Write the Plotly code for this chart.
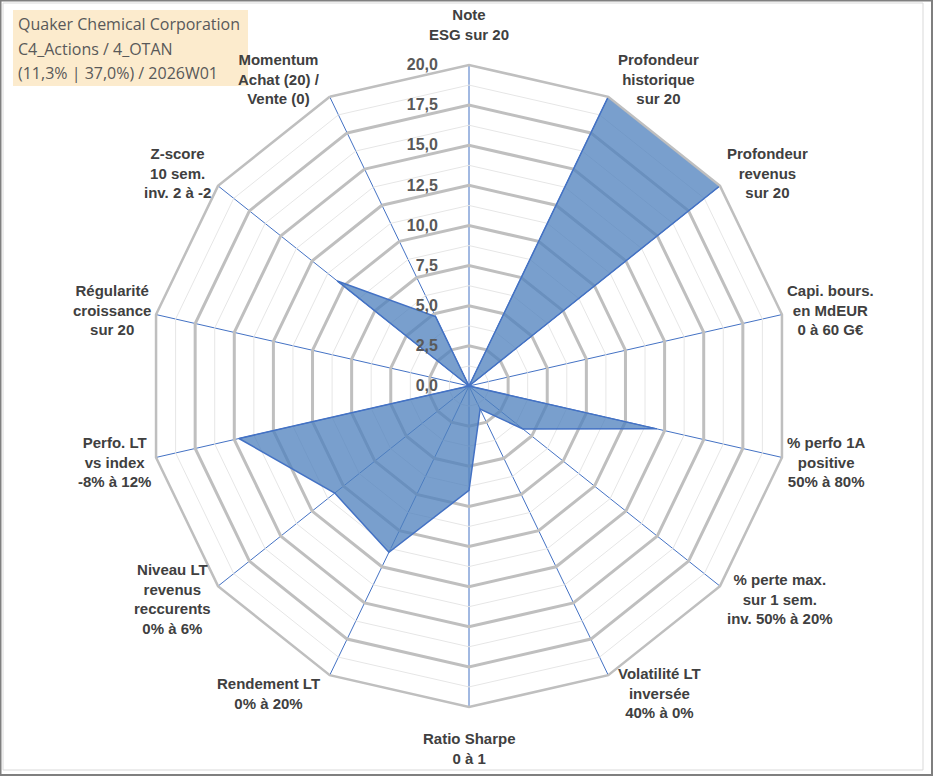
import numpy as np
import plotly.graph_objects as go

# axes of the radar, clockwise from the top
criteres = [
    "Note<br>ESG sur 20",
    "Profondeur<br>historique<br>sur 20",
    "Profondeur<br>revenus<br>sur 20",
    "Capi. bours.<br>en MdEUR<br>0 à 60 G€",
    "% perfo 1A<br>positive<br>50% à 80%",
    "% perte max.<br>sur 1 sem.<br>inv. 50% à 20%",
    "Volatilité LT<br>inversée<br>40% à 0%",
    "Ratio Sharpe<br>0 à 1",
    "Rendement LT<br>0% à 20%",
    "Niveau LT<br>revenus<br>reccurents<br>0% à 6%",
    "Perfo. LT<br>vs index<br>-8% à 12%",
    "Régularité<br>croissance<br>sur 20",
    "Z-score<br>10 sem.<br>inv. 2 à -2",
    "Momentum<br>Achat (20) /<br>Vente (0)",
]
notes = [0, 20, 20, 0, 12.0, 4.3, 1.6, 6.5, 11.5, 10.7, 14.7, 0, 10.5, 4.8]

titre = ["Quaker Chemical Corporation", "C4_Actions / 4_OTAN", "(11,3% | 37,0%) / 2026W01"]

W, H = 933, 776
cx, cy, R = 469, 386, 321  # centre / rayon du radar en px
Rx, Ry = 312, 327          # ancrage des etiquettes

gris = "#595959"
bleu = "#4472C4"

fig = go.Figure()

# lignes secondaires de la grille (tous les 1,25)
for lvl in np.arange(1.25, 20, 2.5):
    fig.add_trace(go.Scatterpolar(
        r=[lvl] * (len(criteres) + 1), theta=criteres + criteres[:1],
        mode="lines", line=dict(color="#E6E6E6", width=1),
        hoverinfo="skip", showlegend=False))

fig.add_trace(go.Scatterpolar(
    r=notes + notes[:1], theta=criteres + criteres[:1],
    mode="lines", fill="toself",
    fillcolor="rgba(79,129,189,0.76)",
    line=dict(color=bleu, width=1.5),
    showlegend=False))

fig.update_layout(
    width=W, height=H,
    margin=dict(l=0, r=0, t=0, b=0),
    paper_bgcolor="white",
    separators=", ",
    polar=dict(
        domain=dict(x=[(cx - R) / W, (cx + R) / W], y=[1 - (cy + R) / H, 1 - (cy - R) / H]),
        gridshape="linear",
        bgcolor="white",
        radialaxis=dict(
            range=[0, 20], dtick=2.5, tickformat=".1f", angle=90,
            side="counterclockwise", tickangle=90,
            showline=False, ticks="outside", ticklen=25, tickcolor="rgba(0,0,0,0)",
            gridcolor="#BFBFBF", gridwidth=2.5,
            tickfont=dict(family="Liberation Sans", size=16, color=gris, weight="bold"),
        ),
        angularaxis=dict(
            rotation=90, direction="clockwise",
            showticklabels=False, ticks="",
            gridcolor=bleu, gridwidth=1.3,
            showline=True, linecolor="#BFBFBF", linewidth=2.5,
        ),
    ),
)

# etiquettes des axes, collées au sommet de chaque rayon
n = len(criteres)
for i, lab in enumerate(criteres):
    a = np.deg2rad(i * 360 / n)
    s, c = np.sin(a), np.cos(a)
    vx = cx + Rx * s
    vy = cy - Ry * c
    if abs(s) < 0.1:
        px, py, xa = vx, vy - 35 * np.sign(c), "center"
    else:
        px = vx + 12 * np.sign(s)
        py = vy - 14 * c
        xa = "left" if s > 0 else "right"
    fig.add_annotation(
        x=px / W, y=1 - py / H, xref="paper", yref="paper",
        text="<b>" + lab + "</b>", showarrow=False, align="center",
        xanchor=xa, yanchor="middle",
        font=dict(family="Liberation Sans", size=15, color="#404040"))

# cartouche titre
fig.add_shape(type="rect", xref="paper", yref="paper",
              x0=13 / W, x1=248 / W, y0=1 - 86 / H, y1=1 - 10 / H,
              fillcolor="rgba(252,232,196,0.85)", line_width=0, layer="above")
for k, t in enumerate(titre):
    fig.add_annotation(
        x=16 / W, y=1 - (24 + k * 24.5) / H, xref="paper", yref="paper",
        text=t, showarrow=False, xanchor="left", yanchor="middle",
        font=dict(family="Open Sans", size=16, color=gris))

# cadre du graphique
fig.add_shape(type="rect", xref="paper", yref="paper",
              x0=3 / W, x1=923 / W, y0=1 - 770 / H, y1=1 - 3 / H,
              line=dict(color="#D9D9D9", width=1))
fig.add_shape(type="rect", xref="paper", yref="paper",
              x0=0.5 / W, x1=1 - 1 / W, y0=1 / H, y1=1 - 0.5 / H,
              line=dict(color="#7F7F7F", width=2))

fig.write_html("out.html", config={"displayModeBar": False},
               post_script="document.body.style.margin='0';")
